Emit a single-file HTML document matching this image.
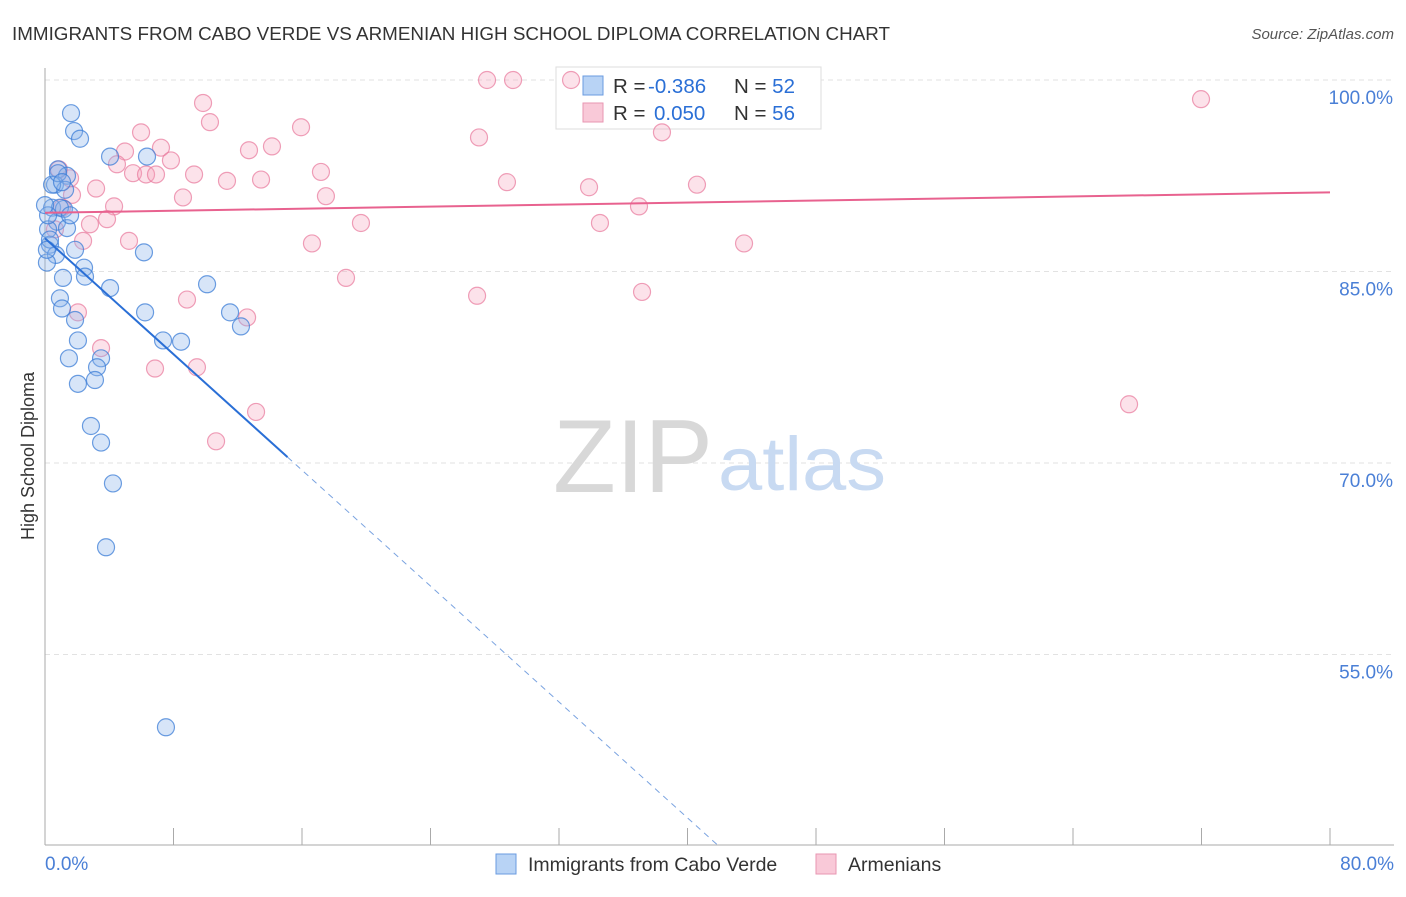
<!DOCTYPE html>
<html><head><meta charset="utf-8"><style>
body{margin:0;background:#fff;font-family:"Liberation Sans",sans-serif;}
svg text{font-family:"Liberation Sans",sans-serif;}
</style></head><body>
<svg id="c" width="1406" height="892"></svg>
<script>
const blueX=[1.62,1.81,2.18,4.05,6.35,0.81,1.37,0.62,1.25,0.44,1.18,0.75,1.37,0.19,0.31,0.68,0.12,1.87,2.43,2.49,1.12,4.05,0.93,1.06,1.87,6.23,10.09,6.16,11.52,12.2,2.05,7.35,8.47,1.49,3.49,3.24,3.11,2.05,2.86,3.49,4.23,3.80,7.53,0.93,0.19,0.31,0.44,0,0.81,1.06,0.12,1.56];
const blueY=[97.4,96.0,95.4,94.0,94.0,93.0,92.5,91.8,91.4,90.0,89.9,88.9,88.4,88.3,87.1,86.3,85.7,86.7,85.3,84.6,84.5,83.7,82.9,82.1,81.2,81.8,84.0,86.5,81.8,80.7,79.6,79.6,79.5,78.2,78.2,77.5,76.5,76.2,72.9,71.6,68.4,63.4,49.3,90.0,89.4,87.5,91.8,90.2,92.7,92.0,86.7,89.4];
const pinkX=[27.52,29.14,32.75,71.97,9.84,10.27,15.94,5.98,27.02,38.41,4.98,7.22,12.70,14.13,4.48,7.84,5.48,6.29,6.91,9.28,11.33,13.45,17.18,28.76,33.87,40.59,3.18,8.59,17.49,0.87,1.68,4.30,36.98,2.80,3.86,19.67,34.55,5.23,2.37,16.62,43.52,18.74,8.84,26.90,37.17,2.05,12.58,3.49,6.85,9.46,67.49,13.14,10.65,1.06,0.62,1.56];
const pinkY=[100,100,100,98.5,98.2,96.7,96.3,95.9,95.5,95.9,94.4,94.7,94.5,94.8,93.4,93.7,92.7,92.6,92.6,92.6,92.1,92.2,92.8,92.0,91.6,91.8,91.5,90.8,90.9,93.0,91.0,90.1,90.1,88.7,89.1,88.8,88.8,87.4,87.4,87.2,87.2,84.5,82.8,83.1,83.4,81.8,81.4,79.0,77.4,77.5,74.6,74.0,71.7,90.0,88.3,92.3];
const yTicks=[100,85,70,55];
const yTickLabels=["100.0%","85.0%","70.0%","55.0%"];
const blueLine=[87.6,-1.135]; // intercept, slope
const pinkLine=[89.6,0.02];
const blueSolidEnd=15.1;

const sx=v=>45+v*1285/80;
const sy=v=>80+(100-v)*191.5/15;
const svg=document.getElementById('c');
const NS='http://www.w3.org/2000/svg';
function mk(t,a,txt){const e=document.createElementNS(NS,t);for(const k in a)e.setAttribute(k,a[k]);if(txt!==undefined)e.textContent=txt;svg.appendChild(e);return e;}

let e;
e=mk('text',{x:12,y:40,'font-size':18,fill:'#333',textLength:878,lengthAdjust:'spacingAndGlyphs'},'IMMIGRANTS FROM CABO VERDE VS ARMENIAN HIGH SCHOOL DIPLOMA CORRELATION CHART');


e=mk('text',{x:1394,y:39,'font-size':15,fill:'#555','font-style':'italic','text-anchor':'end'},'Source: ZipAtlas.com');



yTicks.forEach((t,i)=>{
  e=mk('line',{x1:45,x2:1394,y1:sy(t),y2:sy(t),stroke:'#e2e2e2','stroke-dasharray':'5,4'});
  
  
  e=mk('text',{x:1393,y:sy(t)+24,'font-size':19,fill:'#4a7fd6','text-anchor':'end'},yTickLabels[i]);
  
  
});
e=mk('line',{x1:45,x2:45,y1:68,y2:845,stroke:'#aaa'});


e=mk('line',{x1:45,x2:1394,y1:845,y2:845,stroke:'#aaa'});


for(let i=0;i<=10;i++){
  e=mk('line',{x1:sx(i*8),x2:sx(i*8),y1:828,y2:845,stroke:'#aaa'});
  
  
}
e=mk('text',{x:45,y:870,'font-size':19,fill:'#4a7fd6'},'0.0%');


e=mk('text',{x:1394,y:870,'font-size':19,fill:'#4a7fd6','text-anchor':'end'},'80.0%');


e=mk('text',{x:34,y:456,'font-size':18,fill:'#333','text-anchor':'middle',transform:'rotate(-90 34 456)'},'High School Diploma');



e=mk('text',{x:553,y:492,'font-size':104,fill:'#d8d8d8','font-family':'Liberation Serif',textLength:160,lengthAdjust:'spacingAndGlyphs'},'ZIP');


e=mk('text',{x:718,y:490,'font-size':76,fill:'#c8daf2',textLength:168,lengthAdjust:'spacingAndGlyphs'},'atlas');



e=mk('rect',{x:556,y:67,width:265,height:62,fill:'#fff',stroke:'#ddd'});


const rows=[["#b8d3f5","#6a9be0","-0.386","52",93],["#f9c9d8","#e896b2","0.050","56",120]];
rows.forEach(r=>{
  e=mk('rect',{x:583,y:r[4]-17,width:20,height:19,fill:r[0],stroke:r[1]});
  
  
  const t=mk('text',{x:613,y:r[4],'font-size':20.5,fill:'#333'});
  t.innerHTML='R = <tspan x="'+(r[2].startsWith('-')?648:654)+'" fill="#2a6fd6">'+r[2]+'</tspan><tspan x="734">N = </tspan><tspan fill="#2a6fd6">'+r[3]+'</tspan>';
  
  
});

pinkX.forEach((x,i)=>{
  e=mk('circle',{cx:sx(x),cy:sy(pinkY[i]),r:8.5,fill:'rgba(244,160,185,0.3)',stroke:'rgba(232,120,155,0.7)','stroke-width':1.2});
  
  
});
blueX.forEach((x,i)=>{
  e=mk('circle',{cx:sx(x),cy:sy(blueY[i]),r:8.5,fill:'rgba(140,180,235,0.35)',stroke:'rgba(60,125,215,0.75)','stroke-width':1.2});
  
  
});

const bEnd=(40.1-blueLine[0])/blueLine[1];
e=mk('line',{x1:sx(0),y1:sy(blueLine[0]),x2:sx(blueSolidEnd),y2:sy(blueLine[0]+blueLine[1]*blueSolidEnd),stroke:'#2a6fd6','stroke-width':2});


e=mk('line',{x1:sx(blueSolidEnd),y1:sy(blueLine[0]+blueLine[1]*blueSolidEnd),x2:sx(bEnd),y2:sy(40.1),stroke:'#7aa3e0','stroke-width':1,'stroke-dasharray':'6,5'});


e=mk('line',{x1:sx(0),y1:sy(pinkLine[0]),x2:sx(80),y2:sy(pinkLine[0]+pinkLine[1]*80),stroke:'#e8628f','stroke-width':2});



[["#b8d3f5","#6a9be0","Immigrants from Cabo Verde",496,528],["#f9c9d8","#e896b2","Armenians",816,848]].forEach(l=>{
  e=mk('rect',{x:l[3],y:854,width:20,height:20,fill:l[0],stroke:l[1]});
  
  
  e=mk('text',{x:l[4],y:871,'font-size':19.5,fill:'#333'},l[2]);
  
  
});
</script>
</body></html>
